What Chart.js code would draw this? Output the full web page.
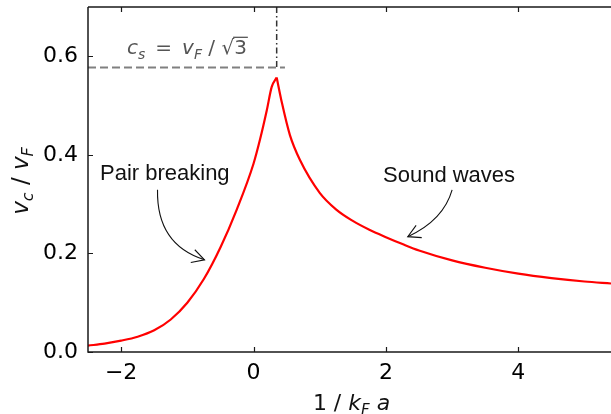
<!DOCTYPE html>
<html>
<head>
<meta charset="utf-8">
<script src="https://cdn.jsdelivr.net/npm/chart.js@4/dist/chart.umd.min.js"></script>
<style>
  html, body { margin: 0; padding: 0; background: #fff; }
  #wrap { width: 611px; height: 414px; }
</style>
</head>
<body>
<div id="wrap"><canvas id="vcChart" width="611" height="414"></canvas></div>
<script>
// critical velocity vs 1/kFa, split at the cusp (pair breaking | sound waves)
const pairX = [-2.5, -2.25, -2, -1.75, -1.5, -1.25, -1, -0.75, -0.5, -0.25, 0, 0.1, 0.2, 0.275, 0.35];
const pairVc = [0.013, 0.017, 0.023, 0.031, 0.044, 0.066, 0.10, 0.148, 0.212, 0.29, 0.382, 0.432, 0.49, 0.538, 0.557];
const soundX = [0.35, 0.43, 0.55, 0.7, 1, 1.25, 1.5, 1.75, 2, 2.25, 2.5, 3, 3.5, 4, 4.5, 5, 5.4];
const soundVc = [0.557, 0.505, 0.44, 0.39, 0.323, 0.289, 0.266, 0.248, 0.233, 0.219, 0.206, 0.186, 0.171, 0.159, 0.150, 0.143, 0.139];

const csValue = 1 / Math.sqrt(3);
const csLineX = [-2.5, 0.475];
const csLineY = [csValue, csValue];
const peakLineX = [0.35, 0.35];
const peakLineY = [0.7, csValue];

const xTicks = [-2, 0, 2, 4];
const yTicks = [0, 0.2, 0.4, 0.6];

// annotations (data coords)
const noteText = ['Pair breaking', 'Sound waves'];
const noteX = [-2.319, 1.956];
const noteY = [0.348, 0.344];
const arrowStart = [[-1.45, 0.329], [3.0, 0.329]];
const arrowBend = [[-1.465, 0.2176], [2.87, 0.2674]];
const arrowEnd = [[-0.74, 0.187], [2.33, 0.234]];
const csLabelPos = [-1.911, 0.604];

const toPts = (xs, ys) => xs.map((x, i) => ({ x: x, y: ys[i] }));

function drawRich(ctx, parts, x, y, size, align) {
    // parts: [text, style]  style: 'r' upright, 'i' italic, 's' italic subscript
    const fontOf = st => {
        if (st === 's') return 'italic ' + Math.round(size * 0.7) + 'px "DejaVu Sans"';
        if (st === 'i') return 'italic ' + size + 'px "DejaVu Sans"';
        return size + 'px "DejaVu Sans"';
    };
    let total = 0;
    parts.forEach(p => { ctx.font = fontOf(p[1]); total += ctx.measureText(p[0]).width; });
    let cx = align === 'center' ? x - total / 2 : x;
    ctx.textAlign = 'left';
    ctx.textBaseline = 'alphabetic';
    parts.forEach(p => {
        ctx.font = fontOf(p[1]);
        const dy = p[1] === 's' ? size * 0.22 : 0;
        ctx.fillText(p[0], cx, y + dy);
        cx += ctx.measureText(p[0]).width;
    });
    return total;
}

const framePlugin = {
    id: 'frame',
    afterDatasetsDraw(chart) {
        const ctx = chart.ctx;
        const a = chart.chartArea;
        const xs = chart.scales.x, ys = chart.scales.y;
        ctx.save();

        // spines
        ctx.strokeStyle = '#1a1a1a';
        ctx.lineWidth = 1.5;
        ctx.beginPath();
        ctx.moveTo(a.left, a.top); ctx.lineTo(a.left, a.bottom); ctx.lineTo(a.right, a.bottom);
        ctx.moveTo(a.left, a.top); ctx.lineTo(a.right, a.top);
        ctx.stroke();

        // inward ticks
        ctx.lineWidth = 1.2;
        ctx.beginPath();
        xTicks.forEach(v => {
            const px = Math.round(xs.getPixelForValue(v)) + 0.5;
            ctx.moveTo(px, a.bottom); ctx.lineTo(px, a.bottom - 5);
            ctx.moveTo(px, a.top); ctx.lineTo(px, a.top + 5);
        });
        yTicks.forEach(v => {
            const py = Math.round(ys.getPixelForValue(v)) + 0.5;
            ctx.moveTo(a.left, py); ctx.lineTo(a.left + 5, py);
        });
        ctx.stroke();

        // annotation arrows
        ctx.strokeStyle = '#111';
        ctx.lineWidth = 1.1;
        arrowStart.forEach((s, i) => {
            const p0 = [xs.getPixelForValue(s[0]), ys.getPixelForValue(s[1])];
            const c = [xs.getPixelForValue(arrowBend[i][0]), ys.getPixelForValue(arrowBend[i][1])];
            const p2 = [xs.getPixelForValue(arrowEnd[i][0]), ys.getPixelForValue(arrowEnd[i][1])];
            ctx.beginPath();
            ctx.moveTo(p0[0], p0[1]);
            ctx.quadraticCurveTo(c[0], c[1], p2[0], p2[1]);
            ctx.stroke();
            const ang = Math.atan2(p2[1] - c[1], p2[0] - c[0]);
            const len = 14, half = 0.5;
            ctx.beginPath();
            ctx.moveTo(p2[0] - len * Math.cos(ang - half), p2[1] - len * Math.sin(ang - half));
            ctx.lineTo(p2[0], p2[1]);
            ctx.lineTo(p2[0] - len * Math.cos(ang + half), p2[1] - len * Math.sin(ang + half));
            ctx.stroke();
        });

        // annotation text
        ctx.fillStyle = '#111';
        ctx.font = '22px "Liberation Sans", Arial, sans-serif';
        ctx.textAlign = 'left';
        ctx.textBaseline = 'alphabetic';
        noteText.forEach((t, i) => {
            ctx.fillText(t, xs.getPixelForValue(noteX[i]), ys.getPixelForValue(noteY[i]));
        });

        // c_s = v_F / sqrt(3)
        ctx.fillStyle = '#555';
        const lx = xs.getPixelForValue(csLabelPos[0]);
        const ly = ys.getPixelForValue(csLabelPos[1]);
        const w = drawRich(ctx, [['c', 'i'], ['s', 's'], ['\u2002=\u2002', 'r'], ['v', 'i'], ['F', 's'], [' / ', 'r'], ['\u221A', 'r']], lx, ly, 20, 'left');
        ctx.font = '20px "DejaVu Sans"';
        const w3 = ctx.measureText('3').width;
        ctx.fillText('3', lx + w, ly);
        ctx.strokeStyle = '#555';
        ctx.lineWidth = 1.3;
        ctx.beginPath();
        ctx.moveTo(lx + w - 1, ly - 17);
        ctx.lineTo(lx + w + w3 + 1, ly - 17);
        ctx.stroke();

        // axis titles
        ctx.fillStyle = '#111';
        drawRich(ctx, [['1', 'r'], [' / ', 'r'], ['k', 'i'], ['F', 's'], [' ', 'r'], ['a', 'i']], (a.left + a.right) / 2 + 2, 410, 22, 'center');
        ctx.translate(28, 181);
        ctx.rotate(-Math.PI / 2);
        drawRich(ctx, [['v', 'i'], ['c', 's'], [' / ', 'r'], ['v', 'i'], ['F', 's']], 0, 0, 23, 'center');
        ctx.restore();
    }
};

document.addEventListener('DOMContentLoaded', function () {
    const el = document.getElementById('vcChart');
    const redLine = {
        showLine: true,
        borderColor: '#ff0000',
        borderWidth: 2.2,
        pointRadius: 0,
        cubicInterpolationMode: 'monotone'
    };

    new Chart(el, {
        type: 'scatter',
        data: {
            datasets: [
                Object.assign({ data: toPts(pairX, pairVc) }, redLine),
                Object.assign({ data: toPts(soundX, soundVc) }, redLine),
                {
                    data: toPts(csLineX, csLineY),
                    showLine: true,
                    borderColor: '#808080',
                    borderWidth: 2,
                    borderDash: [8, 4],
                    pointRadius: 0
                }, {
                    data: toPts(peakLineX, peakLineY),
                    showLine: true,
                    borderColor: '#333333',
                    borderWidth: 1.5,
                    borderDash: [6, 3, 1.5, 3],
                    pointRadius: 0
                }
            ]
        },
        options: {
            responsive: false,
            animation: false,
            devicePixelRatio: 1,
            layout: { padding: { top: 7, right: 0, bottom: 0, left: 0 } },
            plugins: {
                legend: { display: false },
                tooltip: { enabled: false }
            },
            scales: {
                x: {
                    type: 'linear',
                    min: -2.5,
                    max: 5.4,
                    grid: { display: false, drawTicks: false },
                    border: { display: false },
                    afterBuildTicks: s => { s.ticks = xTicks.map(v => ({ value: v })); },
                    afterFit: s => { s.height = 62; s.paddingLeft = 0; s.paddingRight = 0; },
                    ticks: {
                        padding: 8,
                        color: '#000',
                        font: { family: 'DejaVu Sans', size: 22 },
                        callback: v => (v < 0 ? '\u2212' + Math.abs(v) : String(v))
                    }
                },
                y: {
                    min: 0,
                    max: 0.7,
                    grid: { display: false, drawTicks: false },
                    border: { display: false },
                    afterBuildTicks: s => { s.ticks = yTicks.map(v => ({ value: v })); },
                    afterFit: s => { s.width = 88; s.paddingTop = 0; s.paddingBottom = 0; },
                    ticks: {
                        padding: 10,
                        color: '#000',
                        font: { family: 'DejaVu Sans', size: 22 },
                        callback: v => v.toFixed(1)
                    }
                }
            }
        },
        plugins: [framePlugin]
    });
});
</script>
</body>
</html>
